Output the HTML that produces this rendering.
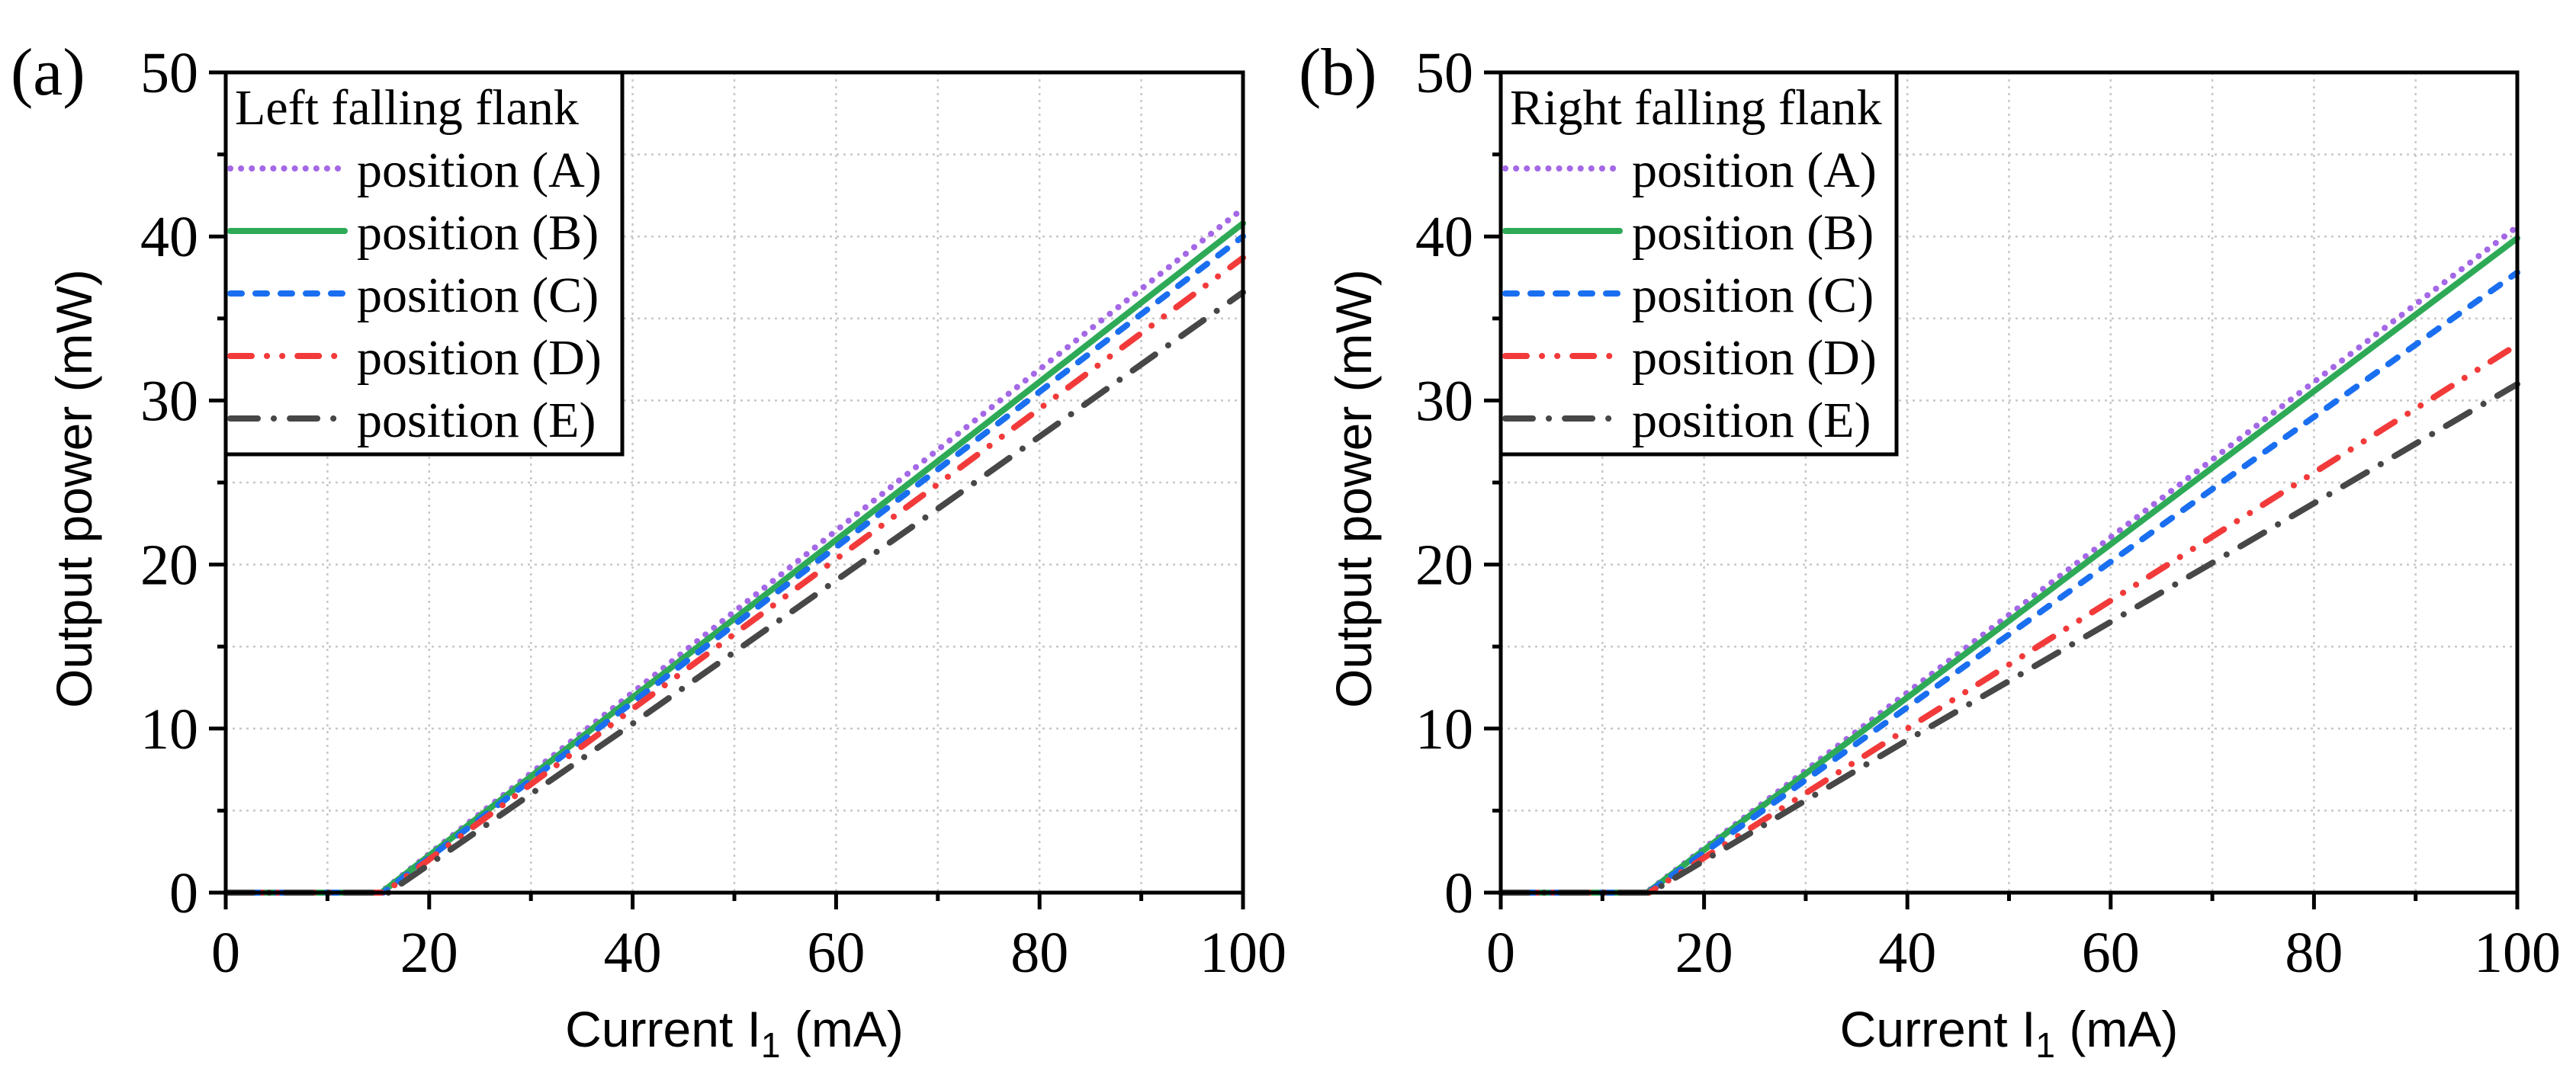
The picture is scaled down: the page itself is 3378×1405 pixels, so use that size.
<!DOCTYPE html>
<html><head><meta charset="utf-8"><style>
html,body{margin:0;padding:0;background:#fff;}
svg{display:block;}
.tick{font-family:"Liberation Serif",serif;font-size:76px;fill:#000;}
.plab{font-family:"Liberation Serif",serif;font-size:88px;fill:#000;}
.leg{font-family:"Liberation Serif",serif;font-size:66px;fill:#000;}
.ttl{font-family:"Liberation Sans",sans-serif;font-size:66px;fill:#000;}
</style></head><body>
<svg id="chart" width="3378" height="1405" viewBox="0 0 3378 1405" xmlns="http://www.w3.org/2000/svg"></svg>
<script>
// ---- data ----
const seriesNames = ["position (A)","position (B)","position (C)","position (D)","position (E)"];
const xTicks = [0,20,40,60,80,100];
const yTicks = [0,10,20,30,40,50];
// panel (a): left falling flank — x points and y values per series
const aX_A = [0,15.2,40,70,100]; const aY_A = [0,0,12.2,27.0,41.7];
const aX_B = [0,15.3,40,70,100]; const aY_B = [0,0,11.9,26.3,40.8];
const aX_C = [0,15.5,40,70,100]; const aY_C = [0,0,11.6,25.8,40.0];
const aX_D = [0,15.6,40,70,100]; const aY_D = [0,0,11.2,24.9,38.7];
const aX_E = [0,16.0,40,70,100]; const aY_E = [0,0,10.3,23.4,36.6];
// panel (b): right falling flank
const bX_A = [0,14.3,40,70,100]; const bY_A = [0,0,12.2,26.4,40.6];
const bX_B = [0,14.4,40,70,100]; const bY_B = [0,0,11.9,25.9,39.9];
const bX_C = [0,14.5,40,70,100]; const bY_C = [0,0,11.3,24.6,37.8];
const bX_D = [0,14.6,40,70,100]; const bY_D = [0,0,10.0,21.7,33.4];
const bX_E = [0,14.7,40,70,100]; const bY_E = [0,0,9.3,20.1,31.0];

const NS="http://www.w3.org/2000/svg";
const svg=document.getElementById('chart');
const styles=[
 {c:"#a468e6",d:"0.1 14"},
 {c:"#2eaa57",d:""},
 {c:"#1a6ff0",d:"15 18"},
 {c:"#f23a3a",d:"28 20 0.1 20 0.1 20"},
 {c:"#474747",d:"36 21 0.1 21"}
];
function mk(tag,attrs,parent){const e=document.createElementNS(NS,tag);for(const k in attrs)e.setAttribute(k,attrs[k]);(parent||svg).appendChild(e);return e;}

function panel(cfg){
  const g=mk('g',{});
  
  
  const X=v=>cfg.x0+(v/100)*(cfg.x1-cfg.x0);
  const Y=v=>cfg.y0-(v/50)*(cfg.y0-cfg.y1);
  const grid=mk('g',{stroke:"#c8c8c8","stroke-width":2.5,"stroke-dasharray":"3 6",fill:"none"},g);
  
  
  for(let v=10;v<100;v+=10){mk('line',{x1:X(v),x2:X(v),y1:cfg.y1,y2:cfg.y0},grid);}
  for(let v=5;v<50;v+=5){mk('line',{x1:cfg.x0,x2:cfg.x1,y1:Y(v),y2:Y(v)},grid);}
  cfg.series.forEach((s,i)=>{
    const pts=s.x.map((xv,j)=>X(xv).toFixed(1)+","+Y(s.y[j]).toFixed(1)).join(" ");
    const p=mk('polyline',{points:pts,fill:"none",stroke:styles[i].c,"stroke-width":8,"stroke-linecap":"round","stroke-linejoin":"round"},g);
    if(styles[i].d)p.setAttribute('stroke-dasharray',styles[i].d);
    
    
  });
  const ax=mk('g',{stroke:"#000","stroke-width":5,fill:"none"},g);
  
  
  mk('rect',{x:cfg.x0,y:cfg.y1,width:cfg.x1-cfg.x0,height:cfg.y0-cfg.y1},ax);
  for(let v=0;v<=100;v+=10){const L=(v%20===0)?22:11;mk('line',{x1:X(v),x2:X(v),y1:cfg.y0,y2:cfg.y0+L},ax);}
  for(let v=0;v<=50;v+=5){const L=(v%10===0)?22:11;mk('line',{x1:cfg.x0-L,x2:cfg.x0,y1:Y(v),y2:Y(v)},ax);}
  xTicks.forEach(v=>{const t=mk('text',{x:X(v),y:cfg.y0+104,"text-anchor":"middle",class:"tick"},g);t.textContent=v;
    
    });
  yTicks.forEach(v=>{const t=mk('text',{x:cfg.x0-36,y:Y(v)+26,"text-anchor":"end",class:"tick"},g);t.textContent=v;
    
    });
  const pl=mk('text',{x:cfg.labX,y:124,class:"plab"},g);pl.textContent=cfg.lab;
  
  
  const xt=mk('text',{x:(cfg.x0+cfg.x1)/2,y:1373,"text-anchor":"middle",class:"ttl"},g);
  xt.innerHTML='Current I<tspan font-size="46" dy="14">1</tspan><tspan dy="-14"> (mA)</tspan>';
  
  
  const yt=mk('text',{x:0,y:0,"text-anchor":"middle",class:"ttl",transform:`translate(${cfg.ytX},${(cfg.y0+cfg.y1)/2+8}) rotate(-90)`},g);
  yt.textContent='Output power (mW)';
  
  
  const lg=mk('g',{},g);
  
  
  mk('rect',{x:cfg.x0,y:cfg.y1,width:cfg.legR-cfg.x0,height:596-cfg.y1,fill:"#fff",stroke:"#000","stroke-width":5},lg);
  const lt=mk('text',{x:cfg.x0+12,y:163,class:"leg"},lg);lt.textContent=cfg.legTitle;
  
  
  const rows=[221,303,385,467,549];
  seriesNames.forEach((n,i)=>{
    const l=mk('line',{x1:cfg.x0+6,x2:cfg.x0+156,y1:rows[i],y2:rows[i],stroke:styles[i].c,"stroke-width":8,"stroke-linecap":"round"},lg);
    if(styles[i].d)l.setAttribute('stroke-dasharray',styles[i].d);
    
    
    const t=mk('text',{x:cfg.x0+172,y:rows[i]+24,class:"leg"},lg);t.textContent=n;
    
    
  });
}
panel({name:'panel-a',lab:'(a)',labX:14,legTitle:'Left falling flank',x0:296,x1:1630,y0:1171,y1:95,legR:816,ytX:120,
  series:[{x:aX_A,y:aY_A},{x:aX_B,y:aY_B},{x:aX_C,y:aY_C},{x:aX_D,y:aY_D},{x:aX_E,y:aY_E}]});
panel({name:'panel-b',lab:'(b)',labX:1703,legTitle:'Right falling flank',x0:1968,x1:3301,y0:1171,y1:95,legR:2487,ytX:1798,
  series:[{x:bX_A,y:bY_A},{x:bX_B,y:bY_B},{x:bX_C,y:bY_C},{x:bX_D,y:bY_D},{x:bX_E,y:bY_E}]});
</script>
</body></html>
